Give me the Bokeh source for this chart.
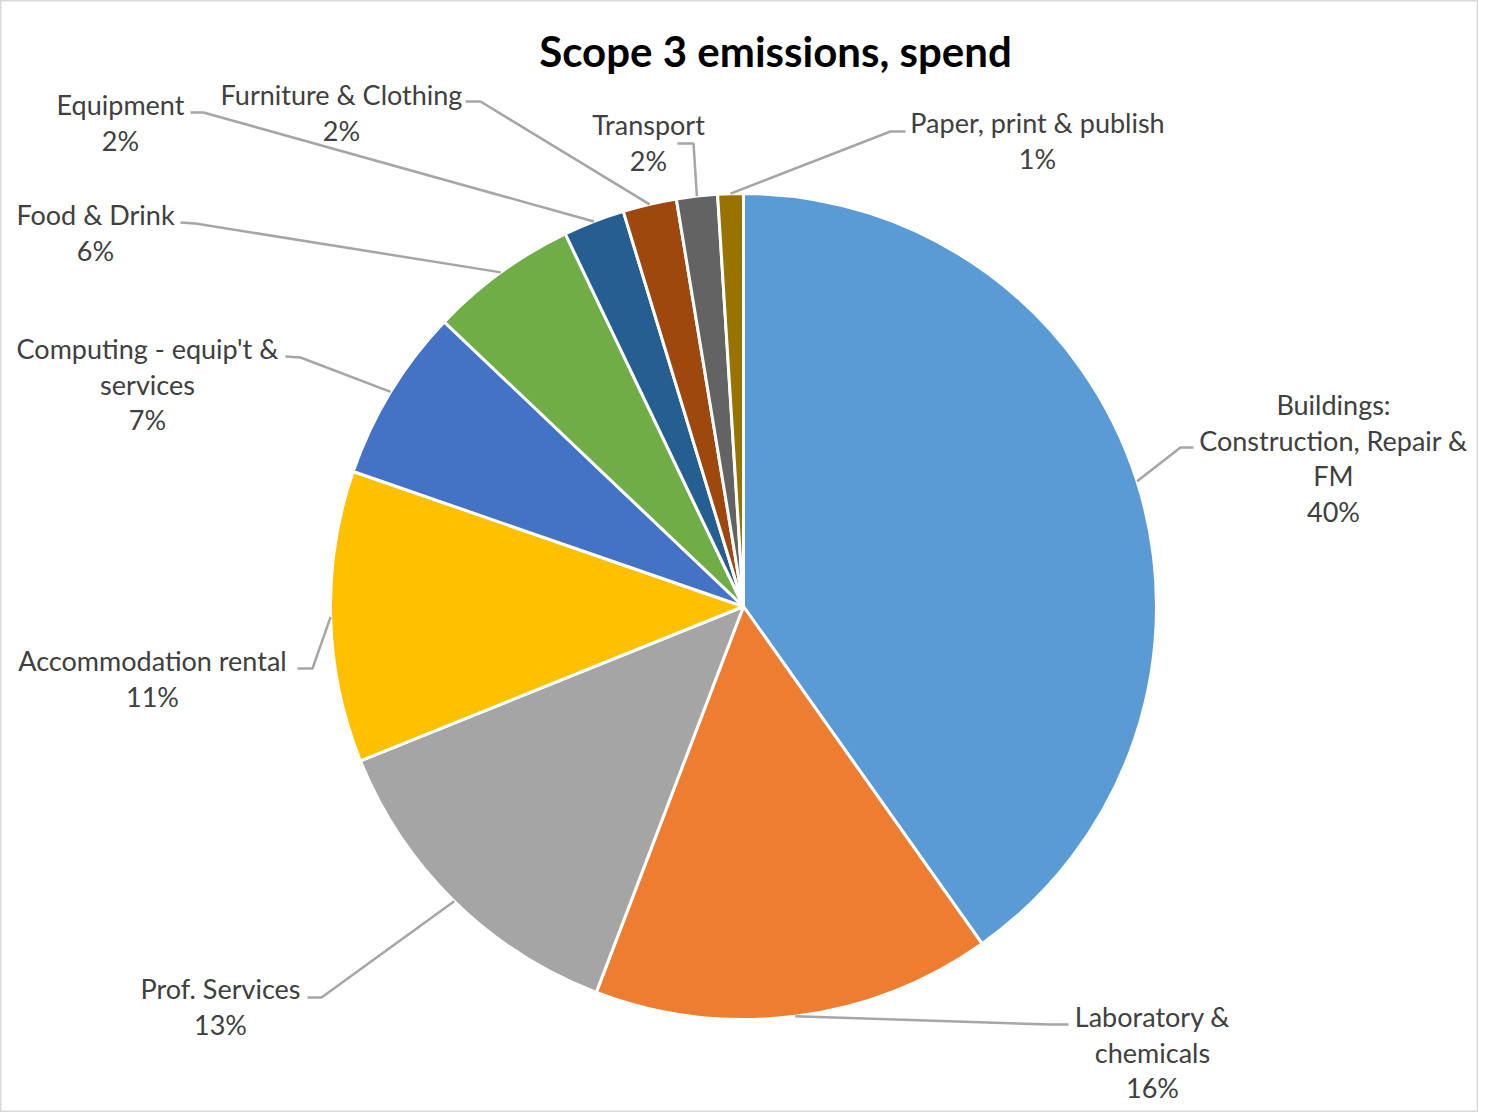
import numpy as np
from bokeh.plotting import figure
from bokeh.models import Range1d, ColumnDataSource
from bokeh.embed import file_html
from bokeh.resources import INLINE
from bokeh.core.properties import value

# ---------------- data ----------------
categories = [
    "Buildings: Construction, Repair & FM",
    "Laboratory & chemicals",
    "Prof. Services",
    "Accommodation rental",
    "Computing - equip't & services",
    "Food & Drink",
    "Equipment",
    "Furniture & Clothing",
    "Transport",
    "Paper, print & publish",
]
label_lines = [
    ["Buildings:", "Construction, Repair &", "FM"],
    ["Laboratory &", "chemicals"],
    ["Prof. Services"],
    ["Accommodation rental"],
    ["Computing - equip't &", "services"],
    ["Food & Drink"],
    ["Equipment"],
    ["Furniture & Clothing"],
    ["Transport"],
    ["Paper, print & publish"],
]
shares = [40.2, 15.6, 13.1, 11.4, 6.8, 5.8, 2.4, 2.1, 1.6, 1.0]
colors = ["#5B9BD5", "#ED7D31", "#A5A5A5", "#FFC000", "#4472C4",
          "#70AD47", "#255E91", "#9E480E", "#636363", "#997300"]
title = "Scope 3 emissions, spend"

# ---------------- layout (picture pixel coords) ----------------
W, H = 1478, 1112
def X(px): return px
def Y(py): return H - py

cx, cy, R = X(743), Y(606), 413
# label first-line centre, leader elbow, leader end
label_pos = [(1333, 404), (1152, 1016), (220, 988), (152, 660), (147, 348),
             (95, 214), (120, 104), (341, 94), (648, 124), (1037, 122)]
elbows = [(1180, 447), (1050, 1024), (321, 997), (312, 668), (300, 357),
          (195, 223), (203, 112), (480, 101), (693, 143), (890, 131)]
ends = [(1193, 447), (1068, 1024), (307, 997), (297, 668), (285, 356),
        (180, 222), (190, 112), (465, 101), (677, 143), (905, 131)]
line_gap = 35.7

# ---------------- figure ----------------
p = figure(width=W, height=H, x_range=Range1d(0, W), y_range=Range1d(0, H),
           output_backend="svg", toolbar_location=None, min_border=0)
p.axis.visible = False
p.grid.visible = False
p.outline_line_color = "#D9D9D9"
p.outline_line_width = 2
p.background_fill_color = "white"
p.border_fill_color = "white"

vals = np.array(shares, dtype=float)
frac = vals / vals.sum()
cum_after = np.cumsum(frac)
cum_before = cum_after - frac
start = np.pi / 2 - 2 * np.pi * cum_after
end = np.pi / 2 - 2 * np.pi * cum_before

src = ColumnDataSource(dict(start=start, end=end, color=colors, cat=categories))
p.wedge(x=cx, y=cy, radius=R, start_angle="start", end_angle="end",
        fill_color="color", line_color="white", line_width=3, source=src)

# leader lines
mid = np.pi / 2 - 2 * np.pi * (cum_before + frac / 2)
xs, ys = [], []
for i in range(len(categories)):
    px0 = cx + R * np.cos(mid[i])
    py0 = cy + R * np.sin(mid[i])
    xs.append([px0, X(elbows[i][0]), X(ends[i][0])])
    ys.append([py0, Y(elbows[i][1]), Y(ends[i][1])])
p.multi_line(xs=xs, ys=ys, line_color="#A6A6A6", line_width=2.5)

# labels
pct = [f"{int(np.floor(100 * f + 0.5))}%" for f in frac]
tx, ty, tt = [], [], []
for i, lines in enumerate(label_lines):
    allines = lines + [pct[i]]
    lx, ly = label_pos[i]
    for k, t in enumerate(allines):
        tx.append(X(lx))
        ty.append(Y(ly + k * line_gap))
        tt.append(t)
p.text(x=tx, y=ty, text=tt, text_align="center", text_baseline="middle",
       text_font=value("Lato"), text_font_size="27px", text_color="#404040")

p.text(x=[X(775)], y=[Y(50)], text=[title], text_align="center",
       text_baseline="middle", text_font=value("Lato"), text_font_style="bold",
       text_font_size="42px", text_color="#000000")

open("out.html", "w").write(file_html(p, INLINE))
